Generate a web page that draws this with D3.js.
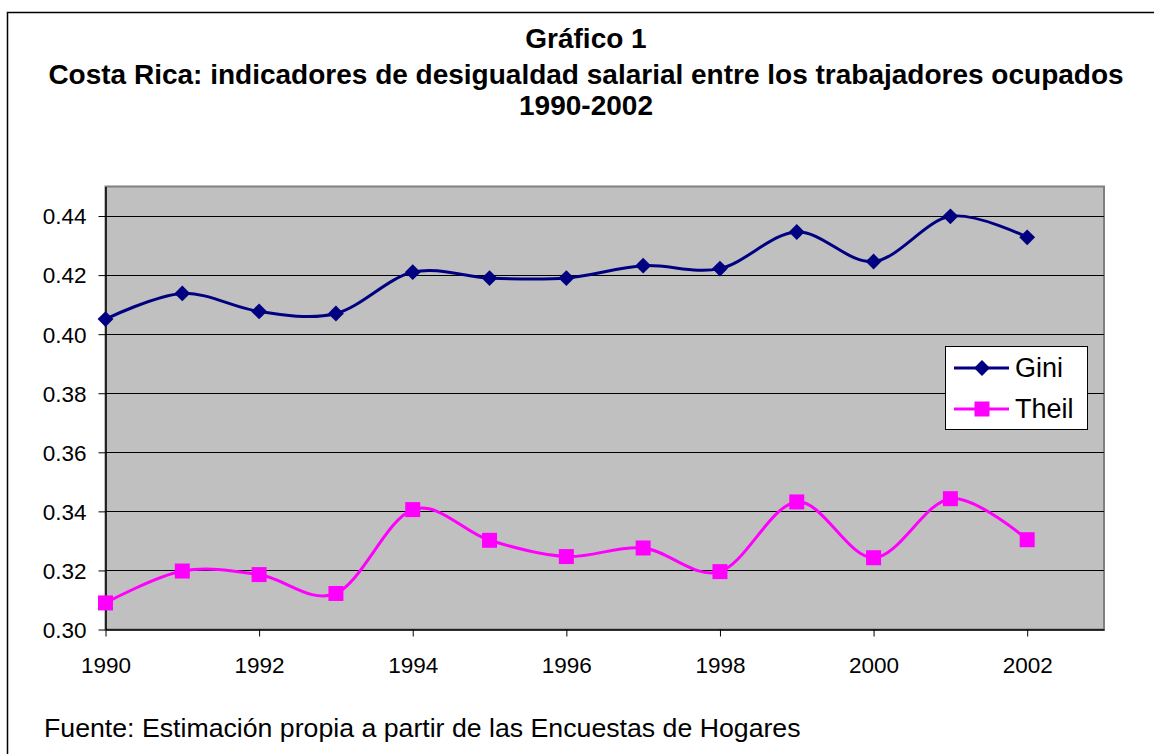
<!DOCTYPE html>
<html>
<head>
<meta charset="utf-8">
<script src="https://cdn.jsdelivr.net/npm/d3@7"></script>
<style>
  html, body { margin: 0; padding: 0; background: #fff; }
  svg { display: block; font-family: "Liberation Sans", Arial, sans-serif; }
</style>
</head>
<body>
<svg id="chart" width="1154" height="754"></svg>
<script>
const years = [1990, 1991, 1992, 1993, 1994, 1995, 1996, 1997, 1998, 1999, 2000, 2001, 2002];
const gini  = [0.4051, 0.4138, 0.4077, 0.4070, 0.4210, 0.4190, 0.4190, 0.4232, 0.4222, 0.4346, 0.4246, 0.4399, 0.4328];
const theil = [0.3090, 0.3198, 0.3186, 0.3122, 0.3406, 0.3302, 0.3247, 0.3276, 0.3196, 0.3432, 0.3243, 0.3443, 0.3304];
const yTicks = [0.30, 0.32, 0.34, 0.36, 0.38, 0.40, 0.42, 0.44];
const xTicks = [1990, 1992, 1994, 1996, 1998, 2000, 2002];
const titleLines = ["Gráfico 1", "Costa Rica: indicadores de desigualdad salarial entre los trabajadores ocupados", "1990-2002"];
const source = "Fuente: Estimación propia a partir de las Encuestas de Hogares";

const svg = d3.select("#chart");
const plot = { left: 105.5, right: 1104, top: 186.5, bottom: 629.5 };

// outer frame (only top and left edges visible)
svg.append("path").attr("d", "M7.5,760 L7.5,12.5 L1160,12.5")
  .attr("fill", "none").attr("stroke", "#000").attr("stroke-width", 1.5);

// titles
const titleY = [48, 84, 115];
svg.selectAll("text.title").data(titleLines).join("text")
  .attr("class", "title")
  .attr("x", 586).attr("y", (d, i) => titleY[i])
  .attr("text-anchor", "middle")
  .attr("font-weight", "bold").attr("font-size", 28)
  .text(d => d);

const x = d3.scaleLinear().domain([1990, 2003]).range([plot.left, plot.right]);
const y = d3.scaleLinear().domain([0.30, 0.45]).range([plot.bottom, plot.top]);

// plot background
svg.append("rect")
  .attr("x", plot.left).attr("y", plot.top)
  .attr("width", plot.right - plot.left).attr("height", plot.bottom - plot.top)
  .attr("fill", "#c0c0c0").attr("stroke", "#808080").attr("stroke-width", 2);

// gridlines
svg.append("g").selectAll("line").data(yTicks.slice(1)).join("line")
  .attr("x1", plot.left).attr("x2", plot.right)
  .attr("y1", d => Math.round(y(d)) + 0.5).attr("y2", d => Math.round(y(d)) + 0.5)
  .attr("stroke", "#000").attr("stroke-width", 1);

// axes
const yAxis = svg.append("g").attr("transform", `translate(${plot.left},0)`)
  .call(d3.axisLeft(y).tickValues(yTicks).tickFormat(d3.format(".2f")).tickSize(7).tickSizeOuter(0));
const xAxis = svg.append("g").attr("transform", `translate(0,${plot.bottom})`)
  .call(d3.axisBottom(x).tickValues(xTicks).tickFormat(d3.format("d")).tickSize(7).tickSizeOuter(0));
[yAxis, xAxis].forEach(g => {
  g.select(".domain").attr("stroke", "#000").attr("stroke-width", 1.5);
  g.selectAll(".tick line").attr("stroke", "#000");
  g.selectAll(".tick text").attr("font-size", 22.5).attr("fill", "#000")
    .attr("font-family", "'Liberation Sans', Arial, sans-serif");
});
yAxis.selectAll(".tick text").attr("x", -19).attr("dy", "0.35em");
xAxis.selectAll(".tick text").attr("y", 36).attr("dy", "0.35em");

// series
const series = [
  { name: "Gini", values: gini, color: "#000080", marker: "diamond" },
  { name: "Theil", values: theil, color: "#ff00ff", marker: "square" }
];
const line = d3.line().x(d => x(d[0])).y(d => y(d[1])).curve(d3.curveCatmullRom.alpha(0));
const diamond = d3.symbol().type(d3.symbolDiamond2 || d3.symbolDiamond).size(160);
const square = d3.symbol().type(d3.symbolSquare).size(225);

series.forEach(s => {
  const pts = years.map((yr, i) => [yr, s.values[i]]);
  svg.append("path").datum(pts).attr("d", line)
    .attr("fill", "none").attr("stroke", s.color).attr("stroke-width", 3);
  svg.append("g").selectAll("path").data(pts).join("path")
    .attr("transform", d => `translate(${x(d[0])},${y(d[1])})`)
    .attr("d", s.marker === "diamond" ? diamond : square)
    .attr("fill", s.color);
});

// legend
const lg = svg.append("g");
lg.append("rect").attr("x", 945.5).attr("y", 346.5).attr("width", 142).attr("height", 83)
  .attr("fill", "#fff").attr("stroke", "#000").attr("stroke-width", 1);
series.forEach((s, i) => {
  const cy = 368 + i * 41;
  lg.append("line").attr("x1", 954).attr("x2", 1009).attr("y1", cy).attr("y2", cy)
    .attr("stroke", s.color).attr("stroke-width", 3);
  lg.append("path").attr("transform", `translate(982,${cy})`)
    .attr("d", s.marker === "diamond" ? diamond : square)
    .attr("fill", s.color);
  lg.append("text").attr("x", 1015).attr("y", cy).attr("dy", "0.35em")
    .attr("font-size", 27).text(s.name);
});

// source
svg.append("text").attr("x", 44).attr("y", 737).attr("font-size", 26.7).text(source);
</script>
</body>
</html>
